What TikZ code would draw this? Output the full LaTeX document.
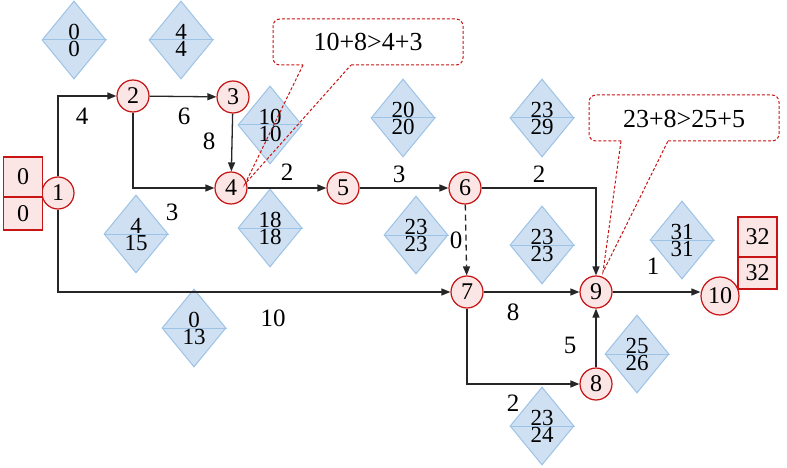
\documentclass[tikz,border=0pt]{standalone}
\usepackage{fontspec}
\setmainfont{Liberation Serif}
\newfontfamily\tms{Liberation Serif}
\usetikzlibrary{arrows.meta,shapes.geometric}
\definecolor{cred}{HTML}{C81414}
\definecolor{cpink}{HTML}{FBE5E5}
\definecolor{cblue}{HTML}{CFE0F2}
\definecolor{cblueline}{HTML}{9DC3E6}
\tikzset{
  ev/.style={circle,draw=cred,fill=cpink,line width=1.2pt,minimum size=32pt,inner sep=0pt,font=\tms\fontsize{24}{24}\selectfont},
  bigev/.style={ev,minimum size=38pt},
  cell/.style={rectangle,draw=cred,fill=cpink,line width=1.2pt,minimum width=39pt,inner sep=0pt,font=\tms\fontsize{24}{24}\selectfont},
  dia/.style={diamond,draw=cblueline,fill=cblue,line width=1pt,minimum width=64pt,minimum height=78pt,inner sep=0pt},
  dtxt/.style={inner sep=0pt,anchor=base,font=\tms\fontsize{23}{23}\selectfont},
  lbl/.style={inner sep=0pt,font=\tms\fontsize{25}{25}\selectfont},
  arr/.style={-{Triangle[length=9pt,width=7pt]},line width=1.3pt,black!85},
  call/.style={draw=cred,dashed,dash pattern=on 3pt off 2pt,line width=1pt},
}
\newcommand{\dmd}[4]{%
  \node[dia] (#1) at (#2) {};
  \draw[cblueline,line width=1pt] (#1.west) -- (#1.east);
  \node[dtxt] (#1t) at ([yshift=0.5pt]#1.center) {#3};
  \node[dtxt] (#1b) at ([yshift=-16.5pt]#1.center) {#4};
}
\begin{document}
\begin{tikzpicture}[x=1pt,y=-1pt]
\useasboundingbox[fill=white] (0,0) rectangle (787,468);
% diamonds
\dmd{da}{74,40}{0}{0}
\dmd{db}{181,40}{4}{4}
\dmd{dc}{270,125}{10}{10}
\dmd{dd}{403,118}{20}{20}
\dmd{de}{542,118}{23}{29}
\dmd{df}{136,234}{4}{15}
\dmd{dg}{270,228}{18}{18}
\dmd{dh}{416,235}{23}{23}
\dmd{di}{542,245}{23}{23}
\dmd{dj}{682,240}{31}{31}
\dmd{dk}{194,328}{0}{13}
\dmd{dl}{637,354}{25}{26}
\dmd{dm}{542,426}{23}{24}
% events
\node[ev] (n1) at (58,193) {1};
\node[ev] (n2) at (133,96) {2};
\node[ev] (n3) at (233,97) {3};
\node[ev] (n4) at (231,188) {4};
\node[ev] (n5) at (343,188) {5};
\node[ev] (n6) at (465,188) {6};
\node[ev] (n7) at (467,292) {7};
\node[ev] (n9) at (596,292) {9};
\node[ev] (n8) at (596,384) {8};
\node[bigev] (n10) at (720,296) {10};
% boxes
\node[cell,minimum height=40pt] (lb1) at (23,177) {0};
\node[cell,minimum height=33pt] (lb2) at (23,213.5) {0};
\node[cell,minimum height=40pt] (rb1) at (757.5,237) {32};
\node[cell,minimum height=32pt] (rb2) at (757.5,273) {32};
% arrows
\draw[arr] (n1.north) |- (n2);
\draw[arr] (n2) -- (n3);
\draw[arr] (n3) -- (n4);
\draw[arr] (n2.south) |- (n4);
\draw[arr] (n4) -- (n5);
\draw[arr] (n5) -- (n6);
\draw[arr] (n6) -| (n9);
\draw[arr,dashed,dash pattern=on 6pt off 4pt] (n6) -- (n7);
\draw[arr] (n1.south) |- (n7);
\draw[arr] (n7) -- (n9);
\draw[arr] (n7.south) |- (n8);
\draw[arr] (n8) -- (n9);
\draw[arr] (n9.east) -- (n9.east -| n10.west);
% edge labels
\node[lbl] (l12) at (82,116) {4};
\node[lbl] (l23) at (184,116) {6};
\node[lbl] (l34) at (209,141) {8};
\node[lbl] (l24) at (172,212) {3};
\node[lbl] (l45) at (287,172) {2};
\node[lbl] (l56) at (399,174) {3};
\node[lbl] (l69) at (539,174) {2};
\node[lbl] (l67) at (456,240) {0};
\node[lbl] (l17) at (273,318) {10};
\node[lbl] (l79) at (513,312) {8};
\node[lbl] (l78) at (513,403) {2};
\node[lbl] (l89) at (570,345) {5};
\node[lbl] (l910) at (653,266) {1};
% callout 1
\coordinate (t1) at (245,184);
\draw[call] (303,65) -- (t1) -- (351,65);
\draw[call,fill=white,rounded corners=7pt] (351,65) -- (463,65) -- (463,19) -- (273,19) -- (273,65) -- (303,65);
\node[lbl,font=\tms\fontsize{26}{26}\selectfont] (c1) at (368,42) {10+8>4+3};
% callout 2
\coordinate (t2) at (603,272);
\draw[call] (621,141) -- (t2) -- (668,141);
\draw[call,fill=white,rounded corners=7pt] (668,141) -- (779,141) -- (779,95) -- (589,95) -- (589,141) -- (621,141);
\node[lbl,font=\tms\fontsize{26}{26}\selectfont] (c2) at (684,119) {23+8>25+5};
\end{tikzpicture}
\end{document}
